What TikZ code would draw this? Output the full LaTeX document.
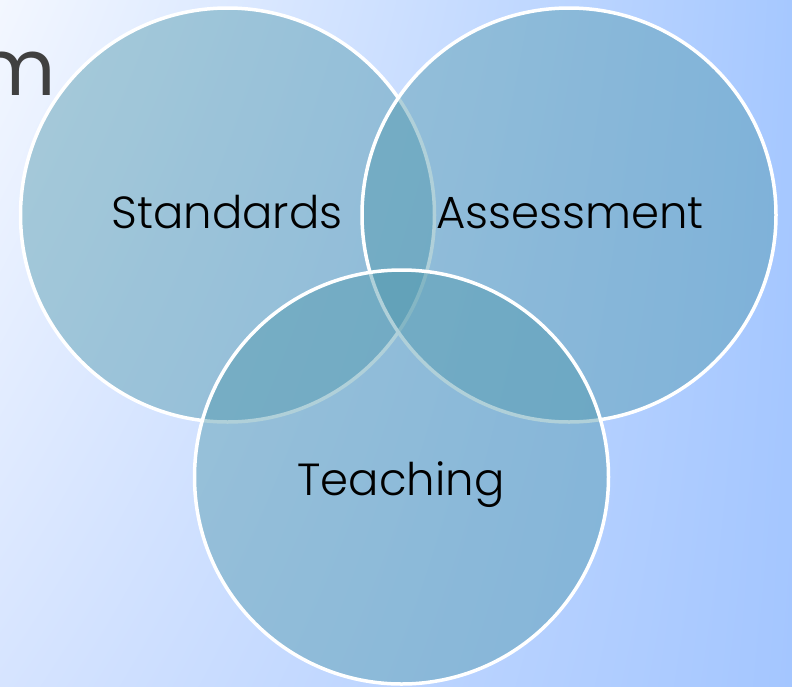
\documentclass[tikz,border=0pt]{standalone}
\usepackage{fontspec}
\usetikzlibrary{shadings}
\setmainfont{Poppins}
\newfontfamily\lightfont{Poppins Light}
\definecolor{bgUL}{RGB}{243,247,255}
\definecolor{bgUR}{RGB}{166,200,255}
\definecolor{bgLL}{RGB}{214,228,255}
\definecolor{bgLR}{RGB}{164,198,255}
\definecolor{circfill}{RGB}{80,152,172}
\definecolor{titlegray}{RGB}{64,64,64}
\tikzset{
  venn/.style={circle, minimum size=414pt, inner sep=0pt, draw=white, line width=3.5pt,
    fill=circfill, fill opacity=0.45, text opacity=1},
  vlabel/.style={anchor=base, inner sep=0pt, font=\lightfont\fontsize{45}{52}\selectfont, text=black}
}
\begin{document}
\begin{tikzpicture}[x=1pt,y=-1pt]
\useasboundingbox (0,0) rectangle (792,686);
\shade[upper left=bgUL, upper right=bgUR, lower left=bgLL, lower right=bgLR] (0,0) rectangle (792,686);
\node[anchor=base east, inner sep=0pt, text=titlegray, font=\fontsize{78}{90}\selectfont] (title) at (56,95) {m};
\node[venn] (std) at (227.5,215) {};
\node[venn] (ass) at (569,215) {};
\node[venn] (tea) at (401.5,477) {};
\node[vlabel] (stdl) at (227,228) {Standards};
\node[vlabel] (assl) at (570,228) {Assessment};
\node[vlabel] (teal) at (401,495) {Teaching};
\end{tikzpicture}
\end{document}
